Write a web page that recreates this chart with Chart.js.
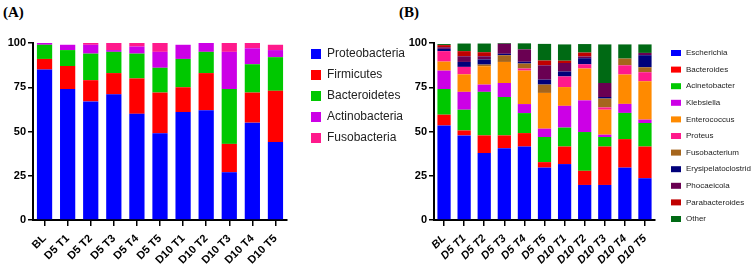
<!DOCTYPE html>
<html>
<head>
<meta charset="utf-8">
<script src="https://cdn.jsdelivr.net/npm/chart.js@4.4.0/dist/chart.umd.min.js"></script>
<style>
    body{margin:0;background:#fff;width:751px;height:276px;position:relative;overflow:hidden;}
    #wrapA{position:absolute;left:0;top:0;width:420px;height:276px;}
    #wrapB{position:absolute;left:380px;top:0;width:371px;height:276px;}
    .tag{position:absolute;top:4px;font:bold 15px 'Liberation Serif','Times New Roman',serif;color:#000;}
</style>
</head>
<body>
<div class="tag" style="left:3px">(A)</div>
<div class="tag" style="left:399px">(B)</div>
<div id="wrapA"><canvas id="chartA"></canvas></div>
<div id="wrapB"><canvas id="chartB"></canvas></div>
<script>
// DATA
const groups = ['BL', 'D5 T1', 'D5 T2', 'D5 T3', 'D5 T4', 'D5 T5', 'D10 T1', 'D10 T2', 'D10 T3', 'D10 T4', 'D10 T5'];
const yTicks = [0, 25, 50, 75, 100];

// (A) phylum level, %
const proteobacteria = [85, 74, 67, 71, 60, 49, 61, 62, 27, 55, 44];
const firmicutes     = [6, 13, 12, 12, 20, 23, 14, 21, 16, 17, 29];
const bacteroidetes  = [8, 9, 15, 12, 14, 14, 16, 12, 31, 16, 19];
const actinobacteria = [1, 3, 5, 1, 4, 9, 8, 5, 21, 9, 4];
const fusobacteria   = [0, 0, 1, 4, 2, 5, 0, 0, 5, 3, 3];

// (B) genus level, %
const escherichia     = [53.4, 47.8, 37.8, 40.6, 41.5, 29.6, 31.6, 19.8, 19.8, 29.6, 23.6];
const bacteroides     = [6.1, 2.8, 10, 7.2, 7.6, 3.1, 9.9, 8, 21.7, 16.1, 17.9];
const acinetobacter   = [14.5, 11.7, 24.6, 21.7, 11.3, 14.2, 10.7, 21.9, 5.4, 14.8, 13.3];
const klebsiella      = [10.4, 10.1, 4.1, 7.9, 5.1, 4.7, 12.3, 17.9, 1.3, 5.1, 1.9];
const enterococcus    = [5.1, 9.9, 10.4, 11.9, 18.9, 20.2, 10.6, 18, 14.1, 16.6, 21.7];
const proteus         = [5.9, 4.2, 0, 0, 1.2, 0, 6, 2.4, 1.3, 5.2, 5.1];
const fusobacterium   = [0, 0, 0.9, 3.8, 2.8, 4.7, 0, 0, 5, 3.8, 2.8];
const erysipelato     = [1.3, 2.8, 2.9, 0.8, 1, 2.8, 2.8, 3.4, 0.9, 0, 6.8];
const phocaeicola     = [0.9, 3.2, 1.8, 5.7, 7, 8.1, 4.8, 1, 7.9, 0, 1.3];
const parabacteroides = [1.2, 2.9, 2.3, 0, 0, 2.7, 1.3, 2.2, 0, 0, 0];
const other           = [0.6, 4.3, 4.9, 0.5, 3.4, 9.4, 9.2, 4.8, 21.8, 8, 4.8];

const phylumLabels = ['Proteobacteria', 'Firmicutes', 'Bacteroidetes', 'Actinobacteria', 'Fusobacteria'];
const phylumColors = ['#0000ff', '#ff0000', '#00c800', '#cc00e6', '#ff1a8c'];
const genusLabels = ['Escherichia', 'Bacteroides', 'Acinetobacter', 'Klebsiella', 'Enterococcus', 'Proteus',
                     'Fusobacterium', 'Erysipelatoclostridium', 'Phocaeicola', 'Parabacteroides', 'Other'];
const genusColors = ['#0000ff', '#ff0000', '#00c800', '#cc00e6', '#ff8a00', '#ff1a8c',
                     '#a5651c', '#00007a', '#6a0052', '#c00000', '#006a14'];

// SIDE LEGEND, drawn on the canvas from the datasets
const sideLegend = {
    id: 'sideLegend',
    afterDraw(chart, args, o) {
        const ctx = chart.ctx;
        ctx.save();
        ctx.font = o.font;
        ctx.textBaseline = 'middle';
        chart.data.datasets.forEach(function(ds, i){
            const y = o.top + i * o.step;
            ctx.fillStyle = ds.backgroundColor;
            ctx.fillRect(o.left, y - o.boxH / 2, o.boxW, o.boxH);
            ctx.fillStyle = '#222';
            ctx.fillText(ds.label, o.textX, y);
        });
        ctx.restore();
    }
};

function makeDatasets(labels, colors, series){
    return labels.map(function(l, i){
        return {label: l, data: series[i], backgroundColor: colors[i], borderWidth: 0,
                categoryPercentage: 1, barPercentage: 0.66};
    });
}

function stackedChart(id, datasets, pad, yWidth, xFont, legend){
    new Chart(document.getElementById(id), {
        type: 'bar',
        data: {labels: groups, datasets: datasets},
        plugins: [sideLegend],
        options: {
            responsive: true,
            maintainAspectRatio: false,
            animation: false,
            layout: {padding: pad},
            plugins: {legend: {display: false}, tooltip: {enabled: false}, sideLegend: legend},
            scales: {
                x: {
                    stacked: true,
                    afterFit: function(s){ s.height = 56; },
                    border: {color: '#000', width: 2},
                    grid: {drawOnChartArea: false, offset: false, color: '#000', lineWidth: 1.5, tickLength: 6},
                    ticks: {color: '#000', font: xFont, minRotation: 45, maxRotation: 45, padding: 6, autoSkip: false}
                },
                y: {
                    stacked: true,
                    min: 0, max: 100,
                    afterFit: function(s){ s.width = yWidth; },
                    afterBuildTicks: function(s){ s.ticks = yTicks.map(function(v){ return {value: v}; }); },
                    border: {color: '#000', width: 2},
                    grid: {drawOnChartArea: false, color: '#000', lineWidth: 1.5, tickLength: 5},
                    ticks: {color: '#000', padding: 2,
                            font: {family: "'Liberation Sans', Arial, sans-serif", size: 11, weight: 'bold'}}
                }
            }
        }
    });
}

// (A) PHYLUM
stackedChart('chartA',
    makeDatasets(phylumLabels, phylumColors, [proteobacteria, firmicutes, bacteroidetes, actinobacteria, fusobacteria]),
    {left: 0, right: 133, top: 43, bottom: 0}, 33,
    {family: "'Liberation Sans Narrow', 'Liberation Sans', Arial, sans-serif", size: 11, weight: 'bold'},
    {left: 311, boxW: 10, boxH: 10, textX: 327, top: 54, step: 21,
     font: "12px 'Liberation Sans Narrow', 'Liberation Sans', Arial, sans-serif"});

// (B) GENUS
stackedChart('chartB',
    makeDatasets(genusLabels, genusColors, [escherichia, bacteroides, acinetobacter, klebsiella, enterococcus, proteus,
                                            fusobacterium, erysipelato, phocaeicola, parabacteroides, other]),
    {left: 20, right: 96, top: 43, bottom: 0}, 34,
    {family: "'Liberation Sans Narrow', 'Liberation Sans', Arial, sans-serif", size: 11, weight: 'bold', style: 'italic'},
    {left: 291, boxW: 10, boxH: 6, textX: 306, top: 53, step: 16.6,
     font: "8px 'Liberation Sans Narrow', 'Liberation Sans', Arial, sans-serif"});
</script>
</body>
</html>
